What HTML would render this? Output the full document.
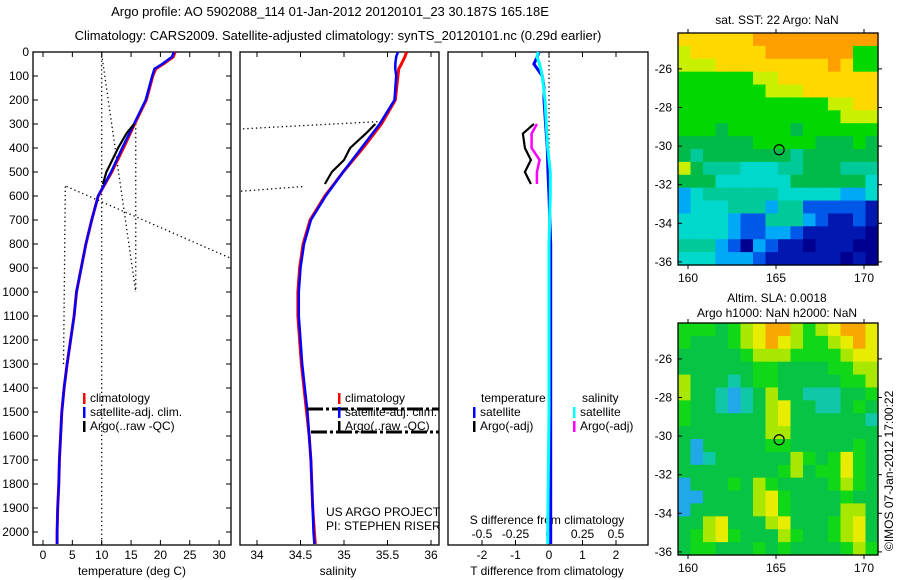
<!DOCTYPE html>
<html><head><meta charset="utf-8"><style>
body{margin:0;background:#fff}
svg{display:block;font-family:"Liberation Sans",sans-serif;font-size:12px}
</style></head><body>
<svg id="s" width="900" height="580" xmlns="http://www.w3.org/2000/svg">
<text x="330" y="16" text-anchor="middle" font-size="13">Argo profile: AO 5902088_114 01-Jan-2012 20120101_23 30.187S 165.18E</text>
<text x="338" y="40" text-anchor="middle" font-size="13">Climatology: CARS2009. Satellite-adjusted climatology: synTS_20120101.nc (0.29d earlier)</text>
<text x="777" y="24" text-anchor="middle" font-size="12">sat. SST: 22 Argo: NaN</text>
<text x="777" y="302" text-anchor="middle" font-size="12">Altim. SLA: 0.0018</text>
<text x="777" y="317" text-anchor="middle" font-size="12">Argo h1000: NaN h2000: NaN</text>
<text transform="translate(893,551) rotate(-90)" font-size="12">©IMOS 07-Jan-2012 17:00:22</text>
<g id="g"></g>
</svg>
<script>
// ---- data ----
const depthTicks=[0,100,200,300,400,500,600,700,800,900,1000,1100,1200,1300,1400,1500,1600,1700,1800,1900,2000];
const climDepth=[0,20,50,70,100,200,300,400,500,600,700,800,900,1000,1100,1200,1300,1400,1500,1600,1700,1800,1900,2000,2050];
const climT=[22.5,22.2,20.5,19.2,18.7,17.6,15.6,13.7,11.7,9.4,8.3,7.3,6.5,5.7,5.3,4.7,4.1,3.6,3.2,3.0,2.8,2.7,2.5,2.4,2.4];
const satT=[22.3,22.0,20.3,19.0,18.6,17.5,15.5,13.5,11.6,9.4,8.3,7.3,6.5,5.7,5.3,4.7,4.1,3.6,3.2,3.0,2.8,2.7,2.5,2.4,2.4];
const climS=[35.72,35.70,35.66,35.63,35.62,35.59,35.43,35.22,34.99,34.78,34.61,34.53,34.49,34.47,34.47,34.49,34.51,34.54,34.57,34.60,34.62,34.63,34.64,34.66,34.67];
const satS=[35.62,35.60,35.59,35.59,35.60,35.58,35.41,35.20,34.99,34.79,34.62,34.54,34.50,34.48,34.48,34.50,34.52,34.55,34.58,34.60,34.62,34.63,34.64,34.65,34.66];
const argoDepth=[300,340,400,450,500,550];
const argoT=[15.5,14.2,12.8,11.8,10.8,10.2];
const argoS=[35.36,35.25,35.07,35.0,34.86,34.78];
const dDepth=[0,20,50,100,150,200,300,400,500,600,800,1000,1500,2000,2050];
const dT=[-0.3,-0.35,-0.45,-0.2,-0.15,-0.15,-0.1,-0.05,-0.03,0,0.05,0.05,0.05,0.05,0.05];
const dS=[-0.08,-0.09,-0.07,-0.05,-0.04,-0.03,-0.02,-0.01,0.01,0.01,0,0,0,-0.01,-0.01];
const argoDT=[-0.45,-0.78,-0.72,-0.54,-0.72,-0.54];
const argoDS=[-0.09,-0.13,-0.13,-0.07,-0.09,-0.09];
const tTicks=[0,5,10,15,20,25,30];
const sTicks=[34,34.5,35,35.5,36];
const sTickLabels=["34","34.5","35","35.5","36"];
const dtTicks=[-2,-1,0,1,2];
const dsTicks=[-0.5,-0.25,0,0.25,0.5];
const latTicks=[-26,-28,-30,-32,-34,-36];
const lonTicks=[160,165,170];
const sstRows=["YYYYYYOOOOOOOOOO","LYYYYYYOOOOOOOGG","LLLYYYYYYYYYOYGG","GGGGGGLLYYYYYYYY","GGGGGGGLLLYYYYYY","GGGGGGGGGGGGLLYY","GGGGGGGGGGGGGLLL","GGGgGGGGGgGGGGGG","ggggggGGGGGgggGg","gTgggggggTgggggg","LgTTTCCCTTgggTTT","gggCCCCCCggggggC","cCTTTTTTCCCCCccC","cCCCTTTcTTBBBBBD","CCCCcBBTTTcBDDBD","CCCCcBBccBDDDDDN","TTTcBNcBDDNDDDNN","CCCcccBDDDDDDNDN"];
const slaRows=["GGGgGLYOOLGLYOOY","GgggGLYOYLGGLYOY","gggggGLLLGGGGLYY","ggggggGGggggGGLL","LgggCgGGgggggGGL","LggCcCgLggCCCggG","GggCcCgLYggCCgGg","GggggggLYggggggC","gggggggLLggggggg","gcgggggGGgggggGg","gcCggggggLGgGYGg","ggggggggGLgGGYGg","cgggGgLGggggGLGg","ccggggLYGggggGgg","cgggggLYGggggLLg","ggLYgggLYgggGLYg","gGLYGgggLGggGLYg","gGGgggGgGggggGLG"];
const sstCol={O:"#ff9f00",Y:"#ffd800",L:"#c8f000",G:"#00d800",g:"#00bb4a",T:"#00c99a",C:"#00d8cc",c:"#00a8f8",B:"#0058e8",D:"#0018b0",N:"#000090"};
const slaCol={O:"#f8a800",Y:"#e8ec00",L:"#a8e800",G:"#10d818",g:"#08c444",C:"#10c8a8",c:"#20a8e8"};

// ---- drawing ----
const NS="http://www.w3.org/2000/svg";
const G=document.getElementById('g');
function el(t,a,txt){const e=document.createElementNS(NS,t);for(const k in a)e.setAttribute(k,a[k]);if(txt!==undefined)e.textContent=txt;G.appendChild(e);return e;}
const Y=d=>52+d*0.24;
const XT=t=>43+t*5.87;
const XS=s=>257+(s-34)*87;
const XDT=v=>549+v*33.5;
const XDS=v=>549+v*134;
function poly(xs,ds,fx,col,w,name,dash){
  const pts=xs.map((v,i)=>fx(v).toFixed(1)+","+Y(ds[i]).toFixed(1)).join(" ");
  const p=el('polyline',{points:pts,fill:"none",stroke:col,"stroke-width":w});
  if(dash)p.setAttribute('stroke-dasharray',dash);
  
  
}
function dotted(pts,name){
  const p=el('polyline',{points:pts,fill:"none",stroke:"#000","stroke-width":1.3,"stroke-dasharray":"1.3,3"});
  
  
}
function txt(x,y,s,anchor,name){
  const t=el('text',{x:x,y:y,"text-anchor":anchor||"start"},s);
  
  
}
const panels=[[33,231],[240,439],[448,648]];
panels.forEach((p,i)=>{
  const r=el('rect',{x:p[0],y:52,width:p[1]-p[0],height:493,fill:"none",stroke:"#000","stroke-width":1.3});
  
  
});
depthTicks.forEach(d=>{
  el('line',{x1:33,x2:38,y1:Y(d),y2:Y(d),stroke:"#000"});
  el('line',{x1:226,x2:231,y1:Y(d),y2:Y(d),stroke:"#000"});
  txt(29,Y(d)+4,String(d),"end",'depth-tick-label');
});
tTicks.forEach(t=>{el('line',{x1:XT(t),x2:XT(t),y1:545,y2:540,stroke:"#000"});el('line',{x1:XT(t),x2:XT(t),y1:52,y2:57,stroke:"#000"});txt(XT(t),559,String(t),"middle",'temperature-tick-label');});
sTicks.forEach((s,i)=>{el('line',{x1:XS(s),x2:XS(s),y1:545,y2:540,stroke:"#000"});el('line',{x1:XS(s),x2:XS(s),y1:52,y2:57,stroke:"#000"});txt(XS(s),559,sTickLabels[i],"middle",'salinity-tick-label');});
dtTicks.forEach(t=>{el('line',{x1:XDT(t),x2:XDT(t),y1:545,y2:540,stroke:"#000"});el('line',{x1:XDT(t),x2:XDT(t),y1:52,y2:57,stroke:"#000"});txt(XDT(t),559,String(t),"middle",'t-diff-tick-label');});
dsTicks.forEach(t=>{txt(XDS(t),538,String(t),"middle",'s-diff-tick-label');});
txt(132,575,"temperature (deg C)","middle",'temperature-axis-title');
txt(338,575,"salinity","middle",'salinity-axis-title');
txt(547,575,"T difference from climatology","middle",'t-diff-axis-title');
txt(547,524,"S difference from climatology","middle",'s-diff-axis-title');
dotted(`${XT(10)},${Y(0)} ${XT(10)},${Y(2050)}`,'temp-dotted-vertical');
dotted(`${XT(10)},${Y(10)} ${XT(15.8)},${Y(1000)}`,'temp-dotted-slant');
dotted(`${XT(15.8)},${Y(300)} ${XT(15.8)},${Y(1000)}`,'temp-dotted-vertical-2');
dotted(`${XT(4)},${Y(560)} 231,${Y(860)}`,'temp-dotted-diagonal');
dotted(`${XT(3.8)},${Y(560)} ${XT(3.5)},${Y(1300)}`,'temp-dotted-vertical-3');
dotted(`243,${Y(320)} ${XS(35.4)},${Y(290)}`,'sal-dotted-1');
dotted(`241,${Y(580)} ${XS(34.55)},${Y(560)}`,'sal-dotted-2');
dotted(`${XDT(0)},${Y(0)} ${XDT(0)},${Y(600)}`,'diff-zero-line');
poly(climT,climDepth,XT,"#ff0000",3,'temp-climatology-line');
poly(satT,climDepth,XT,"#0000ff",2.5,'temp-satellite-line');
poly(argoT,argoDepth,XT,"#000",2.2,'temp-argo-line');
poly(climS,climDepth,XS,"#ff0000",3,'sal-climatology-line');
poly(satS,climDepth,XS,"#0000ff",2.5,'sal-satellite-line');
poly(argoS,argoDepth,XS,"#000",2.2,'sal-argo-line');
poly(dT,dDepth,XDT,"#0000ff",3,'t-diff-satellite-line');
poly(dS,dDepth,XDS,"#00ffff",3,'s-diff-satellite-line');
poly(argoDT,argoDepth,XDT,"#000",2.2,'t-diff-argo-line');
poly(argoDS,argoDepth,XDS,"#ff00ff",2.5,'s-diff-argo-line');
const l1=el('line',{x1:307,x2:439,y1:409,y2:409,stroke:"#000","stroke-width":3,"stroke-dasharray":"16,3,3,3"});

const l2=el('line',{x1:311,x2:439,y1:432,y2:432,stroke:"#000","stroke-width":3,"stroke-dasharray":"16,3,3,3"});

function leg(x,y,col,label,name){
  const r=el('rect',{x:x,y:y-9,width:2.5,height:11,fill:col});
  
  txt(x+7,y,label,"start",name+'-label');
}
leg(83,402,"#ff0000","climatology",'legend-temp-clim');
leg(83,416,"#0000ff","satellite-adj. clim.",'legend-temp-sat');
leg(83,430,"#000","Argo(..raw -QC)",'legend-temp-argo');
leg(338,402,"#ff0000","climatology",'legend-sal-clim');
leg(338,416,"#0000ff","satellite-adj. clim.",'legend-sal-sat');
leg(338,430,"#000","Argo(..raw -QC)",'legend-sal-argo');
txt(481,402,"temperature","start",'legend-temperature-header');
txt(582,402,"salinity","start",'legend-salinity-header');
leg(473,416,"#0000ff","satellite",'legend-dt-sat');
leg(473,430,"#000","Argo(-adj)",'legend-dt-argo');
leg(573,416,"#00ffff","satellite",'legend-ds-sat');
leg(573,430,"#ff00ff","Argo(-adj)",'legend-ds-argo');
txt(326,516,"US ARGO PROJECT","start",'project-credit');
txt(326,530,"PI: STEPHEN RISER","start",'pi-credit');
function map(top,rows,cols,name){
  const L=678,R=878,T=top,B=top+232;
  const nr=rows.length,nc=rows[0].length,cw=(R-L)/nc,ch=(B-T)/nr;
  rows.forEach((row,i)=>{[...row].forEach((c,j)=>{
    const r=el('rect',{x:(L+j*cw).toFixed(2),y:(T+i*ch).toFixed(2),width:(cw+0.6).toFixed(2),height:(ch+0.6).toFixed(2),fill:cols[c]});
    
  });});
  const f=el('rect',{x:L,y:T,width:R-L,height:B-T,fill:"none",stroke:"#000","stroke-width":1.3});
  
  const lat=v=>T+(-24.14-v)*19.3;
  const lon=v=>688+(v-160)*17.6;
  latTicks.forEach(v=>{el('line',{x1:L,x2:L+4,y1:lat(v),y2:lat(v),stroke:"#000"});el('line',{x1:R,x2:R+4,y1:lat(v),y2:lat(v),stroke:"#000"});txt(L-6,lat(v)+4,String(v),"end",name+'-lat-label');});
  lonTicks.forEach(v=>{el('line',{x1:lon(v),x2:lon(v),y1:B,y2:B+4,stroke:"#000"});el('line',{x1:lon(v),x2:lon(v),y1:T,y2:T-4,stroke:"#000"});txt(lon(v),B+17,String(v),"middle",name+'-lon-label');});
  const c=el('circle',{cx:lon(165.18),cy:lat(-30.19),r:5,fill:"none",stroke:"#000","stroke-width":1.2});
  
}
map(33,sstRows,sstCol,'sst-map');
map(323,slaRows,slaCol,'sla-map');
</script>
</body></html>
